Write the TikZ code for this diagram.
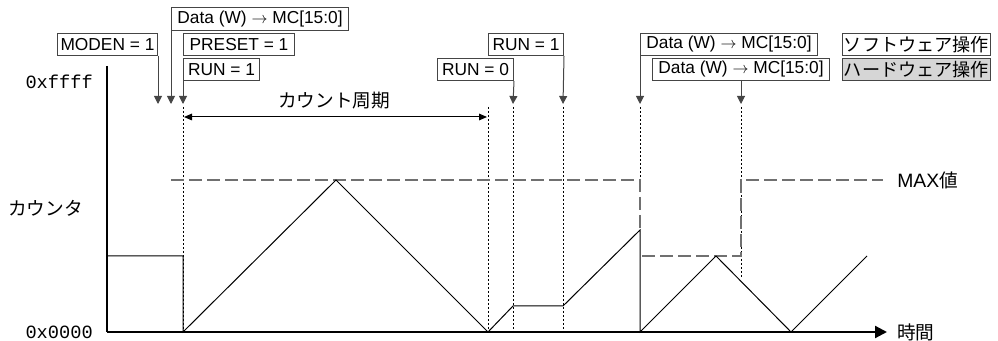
\documentclass[tikz,border=0pt]{standalone}
\usepackage{fontspec}
\setmainfont{Liberation Sans}
\setmonofont{Liberation Mono}
\newfontfamily\jp{Noto Sans CJK JP}
\usetikzlibrary{arrows.meta}
\definecolor{boxline}{HTML}{454545}
\definecolor{dashgray}{HTML}{707070}
\definecolor{hwfill}{HTML}{D6D6D6}
\tikzset{
  box/.style={draw=boxline, line width=0.75pt, inner sep=0pt, minimum height=16.5pt,
    font=\fontsize{13}{15}\selectfont, anchor=north west},
  jpbox/.style={box, font=\jp\fontsize{13.6}{15}\selectfont},
  evarrow/.style={draw=boxline, line width=0.75pt, -{Triangle[width=6pt,length=6pt]}},
  vdot/.style={black, line width=0.75pt, dash pattern=on 1.5pt off 1.5pt},
  maxdash/.style={dashgray, line width=0.9pt, dash pattern=on 10pt off 3.5pt},
  axis/.style={black, line width=1.6pt},
  cnt/.style={black, line width=0.75pt},
  jplabel/.style={font=\jp\fontsize{14}{16}\selectfont, inner sep=0pt},
  hexlabel/.style={font=\ttfamily\fontsize{14}{16}\selectfont, inner sep=0pt, anchor=east}
}
\begin{document}
\begin{tikzpicture}[x=0.75pt,y=-0.75pt]
\useasboundingbox (0,0) rectangle (998,341);

% event boxes
\node[box, minimum width=75pt] (moden) at (57,33) {MODEN = 1};
\node[box, minimum width=132.75pt, minimum height=17.25pt] (dataA) at (171,7) {Data (W) $\rightarrow$ MC[15:0]};
\node[box, minimum width=83.25pt] (preset) at (183,33) {PRESET = 1};
\node[box, minimum width=57pt] (runA) at (183,58) {RUN = 1};
\node[box, minimum width=56.25pt] (runB) at (488,33) {RUN = 1};
\node[box, minimum width=57pt] (runZ) at (437,58) {RUN = 0};
\node[box, minimum width=132.75pt] (dataB) at (640,33) {Data (W) $\rightarrow$ MC[15:0]};
\node[box, minimum width=132.75pt] (dataC) at (652,58) {Data (W) $\rightarrow$ MC[15:0]};
\node[jpbox, minimum width=111pt] (soft) at (842,33) {ソフトウェア操作};
\node[jpbox, minimum width=111pt, fill=hwfill] (hard) at (842,58) {ハードウェア操作};

% arrow tips
\coordinate (tModen) at (158,104);
\coordinate (tDataA) at (171,104);
\coordinate (tRunA) at (183,104);
\coordinate (tRunZ) at (513,104);
\coordinate (tRunB) at (563,104);
\coordinate (tDataB) at (640,104);
\coordinate (tDataC) at (741,104);
\coordinate (cDataC) at (741,80);

\draw[evarrow] (moden.south east) -- (tModen);
\draw[evarrow] (dataA.south west) -- (tDataA);
\draw[evarrow] (runA.south west) -- (tRunA);
\draw[evarrow] (runZ.south east) -- (tRunZ);
\draw[evarrow] (runB.south east) -- (tRunB);
\draw[evarrow] (dataB.south west) -- (tDataB);
\draw[evarrow] (cDataC) -- (tDataC);

% dotted verticals
\coordinate (d1a) at (183,107); \coordinate (d1b) at (183,332);
\coordinate (d2a) at (488,107); \coordinate (d2b) at (488,332);
\coordinate (d3a) at (513,107); \coordinate (d3b) at (513,332);
\coordinate (d4a) at (563,107); \coordinate (d4b) at (563,332);
\coordinate (d5a) at (640,107); \coordinate (d5b) at (640,180);
\coordinate (d6a) at (741,107); \coordinate (d6b) at (741,278);
\draw[vdot] (d1a) -- (d1b);
\draw[vdot] (d2a) -- (d2b);
\draw[vdot] (d3a) -- (d3b);
\draw[vdot] (d4a) -- (d4b);
\draw[vdot] (d5a) -- (d5b);
\draw[vdot] (d6a) -- (d6b);

% count period
\coordinate (cp1) at (184,117);
\coordinate (cp2) at (487,117);
\draw[black, line width=0.75pt, {Triangle[width=5pt,length=6pt]}-{Triangle[width=5pt,length=6pt]}] (cp1) -- (cp2);
\node[jplabel] (period) at (334,101) {カウント周期};

% MAX dashed lines
\coordinate (m1) at (171,180);
\coordinate (m2) at (640,180);
\coordinate (m3) at (640,230);
\coordinate (m4) at (642,256);
\coordinate (m5) at (741,256);
\coordinate (m6) at (741,180);
\coordinate (m7) at (883,180);
\draw[maxdash] (m1) -- (m2) -- (m3);
\draw[maxdash] (m4) -- (m5) -- (m6) -- (m7);
\node[jplabel, anchor=west] (maxv) at (897,180) {{\fontspec{Liberation Sans}\fontsize{14.5}{16}\selectfont MAX}値};

% counter waveform
\draw[cnt] (107,256) -- (183,256) -- (183,332) -- (336,180) -- (488,332) -- (513,306)
  -- (563,306) -- (640,230) -- (640,332) -- (716,256) -- (791,332) -- (867,256);

% axes
\coordinate (yTop) at (107,66);
\coordinate (origin) at (107,332);
\coordinate (xEnd) at (887,332);
\draw[axis] (yTop) -- (origin);
\draw[axis, -{Triangle[width=9pt,length=9pt]}] (origin) -- (xEnd);
\node[jplabel, anchor=west] (time) at (897,332) {時間};

% axis labels
\node[hexlabel] (hmax) at (93,82) {0xffff};
\node[hexlabel] (hmin) at (93,332) {0x0000};
\node[jplabel, anchor=west] (counter) at (8,208) {カウンタ};
\end{tikzpicture}
\end{document}
